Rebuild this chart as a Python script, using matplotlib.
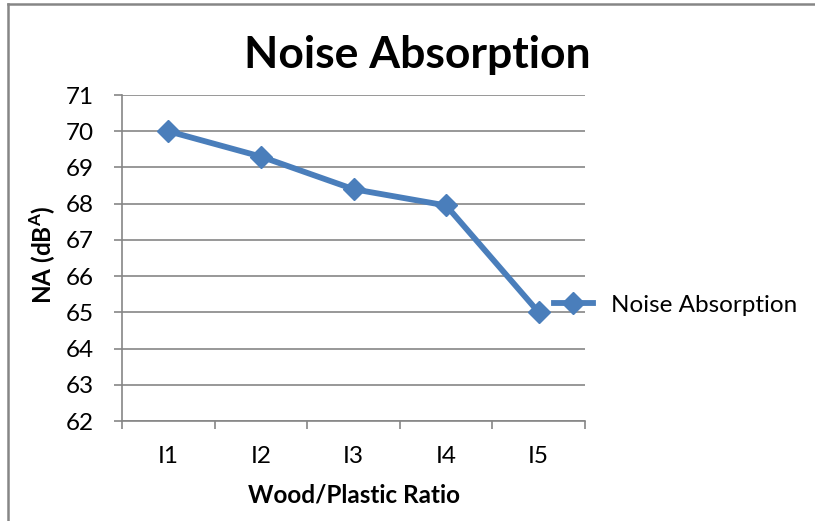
import matplotlib
matplotlib.use("Agg")
import matplotlib.pyplot as plt
from matplotlib.lines import Line2D
import numpy as np

ratios = ["I1", "I2", "I3", "I4", "I5"]
noise_absorption = [70.0, 69.3, 68.4, 67.95, 65.0]
y_ticks = list(range(62, 72))

plt.rcParams["font.family"] = ["Lato", "DejaVu Sans"]
plt.rcParams["mathtext.fontset"] = "custom"
plt.rcParams["mathtext.rm"] = "Lato"
plt.rcParams["mathtext.bf"] = "Lato:bold"

blue = "#4a7ebb"
gray = "#868686"

fig = plt.figure(figsize=(8.15, 5.21), dpi=100)
ax = fig.add_axes([122 / 815, 1 - 421 / 521, 463 / 815, 326 / 521])

x = np.arange(len(ratios)) + 0.5
ax.plot(x, noise_absorption, color=blue, lw=4.2, marker="D", ms=11,
        label="Noise Absorption", solid_joinstyle="round", zorder=3)

ax.set_xlim(0, len(ratios))
ax.set_ylim(62, 71)
ax.set_yticks(y_ticks)
ax.set_xticks(np.arange(len(ratios) + 1))
ax.set_xticklabels([])
ax.set_xticks(x, minor=True)
ax.set_xticklabels(ratios, minor=True)
ax.tick_params(axis="x", which="major", length=6, width=1.2, color=gray, direction="out")
ax.tick_params(axis="x", which="minor", length=0, pad=18, labelsize=17.5)
ax.tick_params(axis="y", length=6, width=1.2, color=gray, direction="out", pad=14, labelsize=17.5)

ax.grid(axis="y", color=gray, lw=1.2)
ax.set_axisbelow(True)
for side in ["top", "right"]:
    ax.spines[side].set_visible(False)
for side in ["left", "bottom"]:
    ax.spines[side].set_color(gray)
    ax.spines[side].set_linewidth(1.2)

ax.set_ylabel(r"NA (dB$^{\mathbf{A}}$)", fontsize=17.5, fontweight="bold")
ax.yaxis.set_label_coords(-0.138, 0.51)
ax.set_xlabel("Wood/Plastic Ratio", fontsize=17.5, fontweight="bold", labelpad=12)

fig.text(417 / 815, 1 - 55 / 521, "Noise Absorption", fontsize=32, fontweight="bold",
         ha="center", va="center")

fig.legend(loc="center left", bbox_to_anchor=(554 / 815, 1 - 305 / 521), frameon=False,
           fontsize=17.5, handlelength=1.6, handletextpad=0.75, borderpad=0, borderaxespad=0)

# chart frame
fig.add_artist(Line2D([8 / 815, 8 / 815], [0, 1 - 4 / 521], color=gray, lw=1.8))
fig.add_artist(Line2D([8 / 815, 1], [1 - 4 / 521, 1 - 4 / 521], color=gray, lw=1.8))

fig.savefig("out.png", dpi=100)
